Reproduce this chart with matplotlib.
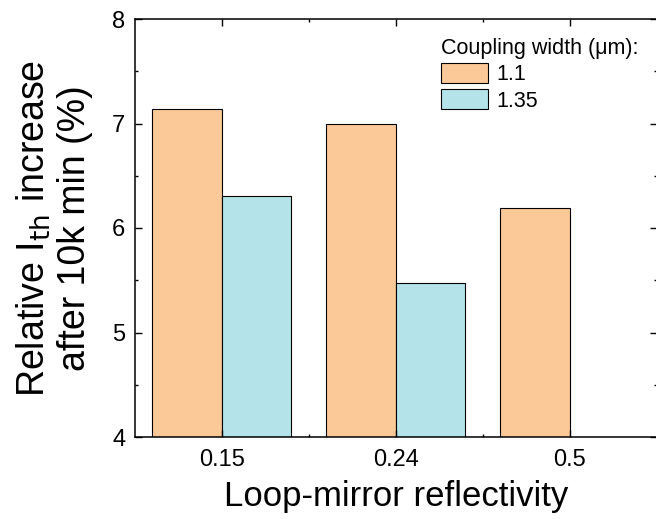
import numpy as np
import matplotlib
matplotlib.use("Agg")
import matplotlib.pyplot as plt
from matplotlib.ticker import MultipleLocator

# ---------- Data ----------
reflectivity = ["0.15", "0.24", "0.5"]
width_labels = ["1.1", "1.35"]
increase_w11 = [7.14, 7.00, 6.19]
increase_w135 = [6.31, 5.47, np.nan]

orange = "#FBC898"
cyan = "#B4E4E9"

plt.rcParams["font.family"] = ["Liberation Sans", "DejaVu Sans"]

# ---------- Plot ----------
fig = plt.figure(figsize=(6.56, 5.19), dpi=100)
ax = fig.add_axes([135 / 656, 1 - 437 / 519, 521.5 / 656, 418 / 519])

x = np.arange(len(reflectivity))
ax.bar(x - 0.2, increase_w11, width=0.4, color=orange, edgecolor="black",
       linewidth=0.8, label=width_labels[0])
ax.bar(x + 0.2, increase_w135, width=0.4, color=cyan, edgecolor="black",
       linewidth=0.8, label=width_labels[1])

ax.set_xlim(-0.5, 2.5)
ax.set_ylim(4, 8)
ax.set_xticks(x)
ax.set_xticklabels(reflectivity)
ax.set_xticks(x[:-1] + 0.5, minor=True)
ax.yaxis.set_major_locator(MultipleLocator(1))
ax.yaxis.set_minor_locator(MultipleLocator(0.5))

ax.tick_params(which="both", direction="in", top=True, right=True, width=1.0)
ax.tick_params(which="major", length=5)
ax.tick_params(which="minor", length=2.5)
ax.tick_params(axis="x", labelsize=17, pad=9)
ax.tick_params(axis="y", labelsize=17, pad=7)
for sp in ax.spines.values():
    sp.set_linewidth(1.1)

ax.set_xlabel("Loop-mirror reflectivity", fontsize=25, labelpad=6)
ax.set_ylabel("Relative I$_{\\mathrm{th}}$ increase\nafter 10k min (%)",
              fontsize=27, labelpad=14, linespacing=1.12)

ax.legend(title="Coupling width (\u03bcm):", loc="upper left",
          bbox_to_anchor=(441 / 656, 1 - 38 / 519), bbox_transform=fig.transFigure,
          frameon=False, fontsize=15.5, title_fontsize=15.5, borderpad=0,
          handlelength=2.2, handleheight=1.07, handletextpad=0.35,
          labelspacing=0.18, borderaxespad=0, alignment="left")

fig.savefig("out.png", dpi=100)
